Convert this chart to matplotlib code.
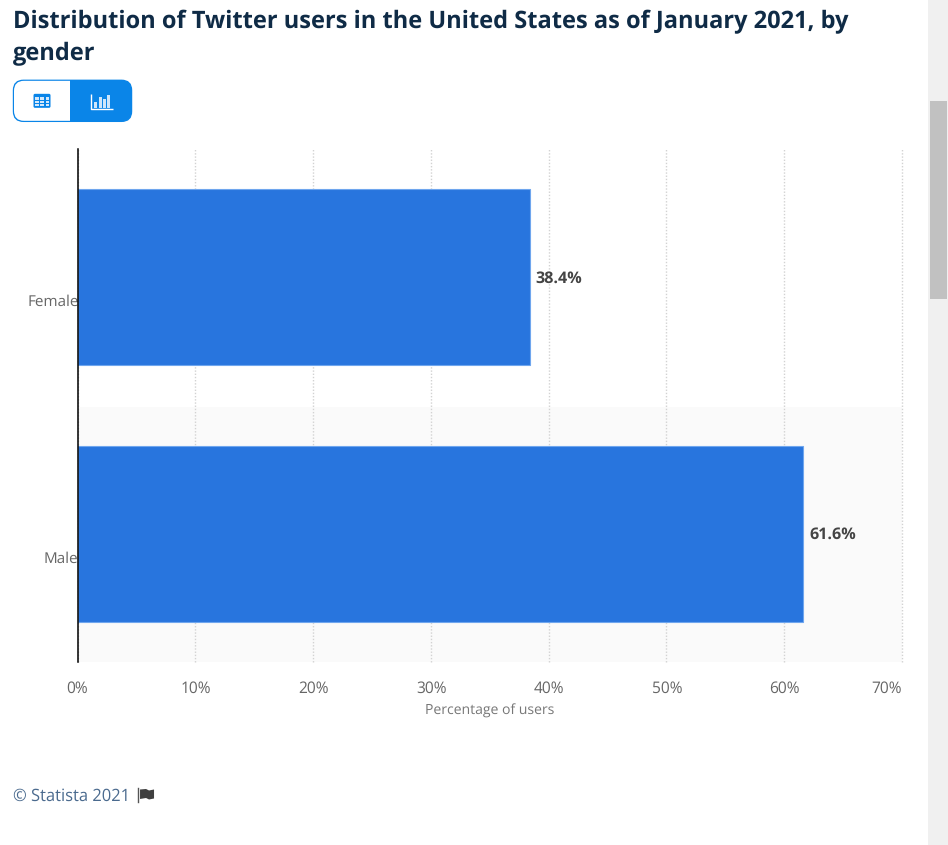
import matplotlib
matplotlib.use("Agg")
import matplotlib.pyplot as plt
from matplotlib.patches import FancyBboxPatch, Rectangle, Polygon
from matplotlib.transforms import offset_copy

categories = ["Female", "Male"]
shares = [38.4, 61.6]
value_labels = ["38.4%", "61.6%"]
x_ticks = [0, 10, 20, 30, 40, 50, 60, 70]
x_tick_labels = ["0%", "10%", "20%", "30%", "40%", "50%", "60%", "70%"]

plt.rcParams["font.family"] = ["Open Sans", "DejaVu Sans"]
plt.rcParams["text.hinting"] = "no_hinting"
plt.rcParams["text.hinting_factor"] = 8
W, H = 948, 845
fig = plt.figure(figsize=((W + 0.2) / 100, (H + 0.2) / 100), dpi=100)

# page overlay in pixel coordinates
ui = fig.add_axes([0, 0, 1, 1], zorder=0)
ui.set_xlim(0, W)
ui.set_ylim(H, 0)
ui.axis("off")

ui.text(13, 21.5, "Distribution of Twitter users in the United States as of January 2021, by",
        fontsize=17.0, fontweight="bold", color="#0f2b46", va="center", ha="left")
ui.text(13, 53.5, "gender", fontsize=17.0, fontweight="bold", color="#0f2b46", va="center", ha="left")

# scrollbar
ui.add_patch(Rectangle((928, 0), 20, H, fc="#f0f0f0", ec="none"))
ui.add_patch(Rectangle((930, 101), 17, 198, fc="#c1c1c1", ec="none"))

# toggle button
BLUE = "#0a85e8"
ui.add_patch(FancyBboxPatch((13.5, 80.5), 118, 41, boxstyle="round,pad=0,rounding_size=10",
                            fc=BLUE, ec=BLUE, lw=1))
ui.add_patch(FancyBboxPatch((14, 81), 80, 40, boxstyle="round,pad=0,rounding_size=10", fc="white", ec="none"))
ui.add_patch(Rectangle((70, 80.5), 30, 41, fc=BLUE, ec="none"))
# table icon
ui.add_patch(FancyBboxPatch((33.5, 94), 17, 14, boxstyle="round,pad=0,rounding_size=1.5", fc=BLUE, ec="none"))
for gx in (35.2, 40.4, 45.6):
    for gy in (97.6, 101, 104.4):
        ui.add_patch(Rectangle((gx, gy), 3.6, 2.2, fc="#d5e9fb", ec="none"))
# bar icon
ui.plot([90.5, 90.5, 112.5], [94, 109.5, 109.5], color="white", lw=1, solid_capstyle="butt")
for bx, top in ((94, 102), (98.5, 97), (102.5, 99), (107, 95.5)):
    ui.add_patch(Rectangle((bx, top), 3, 108 - top, fc="#cfe6fa", ec="none"))

# footer
ui.text(13, 796, "© Statista 2021", fontsize=11.9, color="#4a6a8e", va="center", ha="left")
ui.plot([138, 138], [788, 802], color="#555555", lw=1)
ui.add_patch(Polygon([(140, 789.5), (146, 789), (149, 790.5), (154, 789.5), (154, 798.5),
                      (149, 799.5), (146, 798), (140, 799)], fc="#3f3f3f", ec="none"))

# chart
ax = fig.add_axes([77.5 / W, 1 - 662 / H, (901.7 - 77.5) / W, (662 - 149) / H], zorder=1)
ax.patch.set_alpha(0)
ax.set_xlim(0, 70)
ax.set_ylim(1.5, -0.5)
ax.axhspan(0.505, 1.5, color="#fafafa", lw=0, zorder=0)
ax.set_axisbelow(True)
ax.grid(axis="x", color="#d2d2d2", lw=1, ls=(0, (1, 1.3)), zorder=1)
for g in ax.get_xgridlines():
    g.set_clip_on(False)
ax.barh(range(len(categories)), shares, height=0.686, color="#2875de",
        edgecolor="#6fa6ee", linewidth=0.8, zorder=2)
for i, (v, lab) in enumerate(zip(shares, value_labels)):
    ax.annotate(lab, (v, i), xytext=(6, -1), textcoords="offset pixels", fontsize=11.6,
                fontweight="bold", color="#444444", va="center", ha="left", zorder=3)
for s in ("top", "right", "bottom"):
    ax.spines[s].set_visible(False)
ax.spines["left"].set_color("#000000")
ax.spines["left"].set_linewidth(1.1)
ax.set_xticks(x_ticks, x_tick_labels)
ax.set_yticks(range(len(categories)), categories)
ax.tick_params(axis="x", length=0, pad=13, labelsize=11.2, labelcolor="#666666")
ax.tick_params(axis="y", length=0, pad=0, labelsize=11, labelcolor="#666666")
# category labels sit below the band centre, as in the reference
for t in ax.get_yticklabels():
    t.set_transform(offset_copy(t.get_transform(), fig=fig, x=1, y=-23, units="dots"))
# tick labels: nudged to match the reference; the last stays inside the plot edge
xlabels = ax.get_xticklabels()
for t in xlabels[1:-1]:
    t.set_transform(offset_copy(t.get_transform(), fig=fig, x=0.5, y=0, units="dots"))
xlabels[-1].set_ha("right")
ax.set_xlabel("Percentage of users", fontsize=10.1, color="#777777", labelpad=5.5)
ax.xaxis.label.set_x((490 - 77.5) / (901.7 - 77.5))
fig.savefig("out.png", dpi=100)
